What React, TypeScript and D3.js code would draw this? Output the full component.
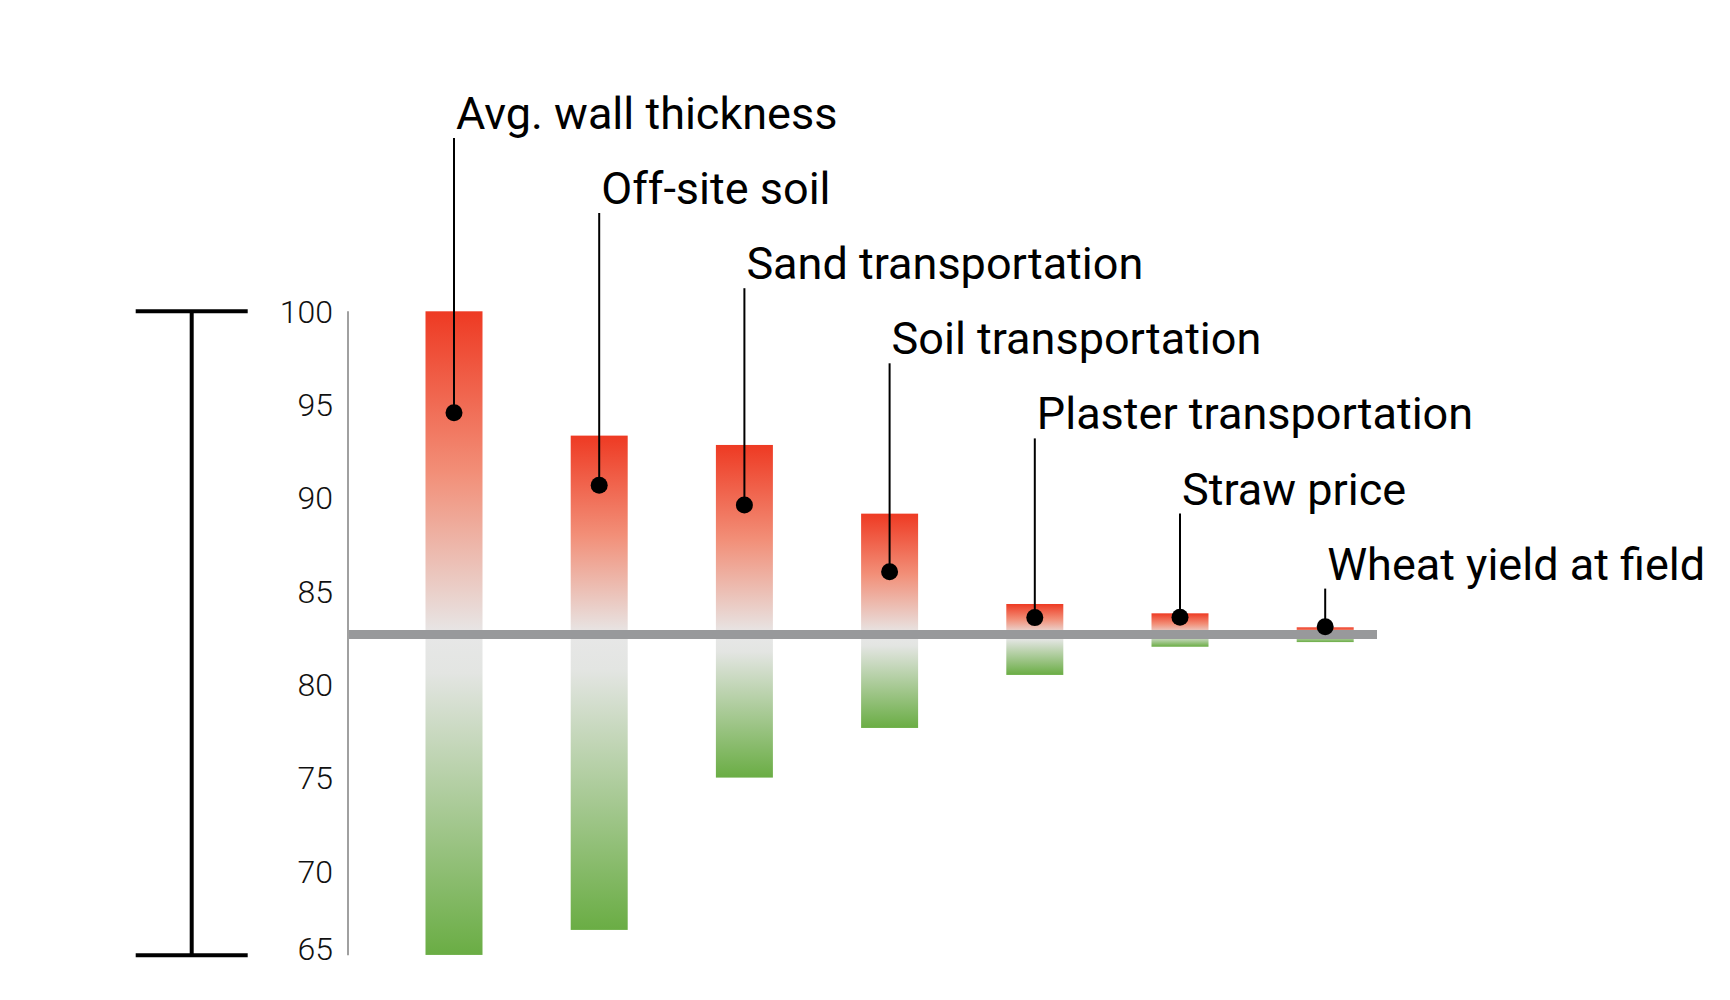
import React from 'react';
import * as d3 from 'd3';

// ---- data ----
const categories = [
  'Avg. wall thickness',
  'Off-site soil',
  'Sand transportation',
  'Soil transportation',
  'Plaster transportation',
  'Straw price',
  'Wheat yield at field',
];
const highValues = [100, 93.34, 92.84, 89.16, 84.32, 83.82, 83.07];
const lowValues = [65.52, 66.86, 75.02, 77.68, 80.52, 82.03, 82.28];
const pointValues = [94.57, 90.68, 89.62, 86.05, 83.59, 83.61, 83.1];
const baselineValue = 82.68;
const tickValues = [100, 95, 90, 85, 80, 75, 70, 65];
const axisMin = 65.5;
const axisMax = 100;

// ---- layout ----
const W = 1730;
const H = 1000;
const RED = '#EE3A23';
const GRAY = '#E7E7E7';
const GREEN = '#6AAD44';

export default function App() {
  const y = d3.scaleLinear().domain([axisMin, axisMax]).range([955.3, 311.3]);
  const x = d3.scaleBand<string>().domain(categories).range([381.4, 1397.8]).padding(0);
  const bw = x.bandwidth();
  const barW = 57;
  const axisX = 348;
  const bracketX = 191.7;
  const yBase = y(baselineValue);
  const yBottom = y(axisMin);
  const yTop = y(axisMax);

  return (
    <svg
      width={W}
      height={H}
      viewBox={`0 0 ${W} ${H}`}
      style={{ position: 'absolute', left: 0, top: 0, background: '#fff' }}
      fontFamily="Roboto, 'Noto Sans', sans-serif"
    >
      <defs>
        {categories.map((c, i) => {
          const yt = y(highValues[i]);
          const yb = y(lowValues[i]);
          const mid = Math.max(0, Math.min(1, (yBase - yt) / (yb - yt)));
          const midLow = mid + (1 - mid) * 0.12;
          return (
            <linearGradient key={c} id={`grad${i}`} x1="0" y1="0" x2="0" y2="1">
              <stop offset={0} stopColor={RED} />
              <stop offset={mid * 0.5} stopColor="#F28F78" />
              <stop offset={mid} stopColor={GRAY} />
              <stop offset={midLow} stopColor="#E3E5E2" />
              <stop offset={1} stopColor={GREEN} />
            </linearGradient>
          );
        })}
      </defs>

      {/* left bracket */}
      <g stroke="#000" strokeWidth={4}>
        <line x1={bracketX} x2={bracketX} y1={yTop} y2={yBottom} />
        <line x1={bracketX - 56} x2={bracketX + 56} y1={yTop} y2={yTop} />
        <line x1={bracketX - 56} x2={bracketX + 56} y1={yBottom} y2={yBottom} />
      </g>

      {/* axis */}
      <line x1={axisX} x2={axisX} y1={yTop} y2={yBottom} stroke="#A0A0A0" strokeWidth={2} />
      {tickValues.map((t) => (
        <text
          key={t}
          x={333}
          y={Math.min(y(t), yBottom - 7)}
          dy="0.355em"
          textAnchor="end"
          fontSize={32}
          fontWeight={300}
          fill="#111"
        >
          {t}
        </text>
      ))}

      {/* bars */}
      {categories.map((c, i) => {
        const cx = (x(c) as number) + bw / 2;
        const yt = y(highValues[i]);
        const yb = y(lowValues[i]);
        return (
          <rect key={c} x={cx - barW / 2} y={yt} width={barW} height={yb - yt} fill={`url(#grad${i})`} />
        );
      })}

      {/* baseline */}
      <line
        x1={axisX + 1}
        x2={1377}
        y1={yBase}
        y2={yBase}
        stroke="#98999B"
        strokeWidth={9}
      />

      {/* labels, leaders, points */}
      {categories.map((c, i) => {
        const cx = (x(c) as number) + bw / 2;
        const cy = y(pointValues[i]);
        const ly = 129 + i * 75.1;
        return (
          <g key={c}>
            <line x1={cx} x2={cx} y1={ly + 9} y2={cy} stroke="#000" strokeWidth={2} />
            <circle cx={cx} cy={cy} r={8.5} fill="#000" />
            <text x={cx + 2} y={ly} fontSize={45} fill="#000">
              {c}
            </text>
          </g>
        );
      })}
    </svg>
  );
}
